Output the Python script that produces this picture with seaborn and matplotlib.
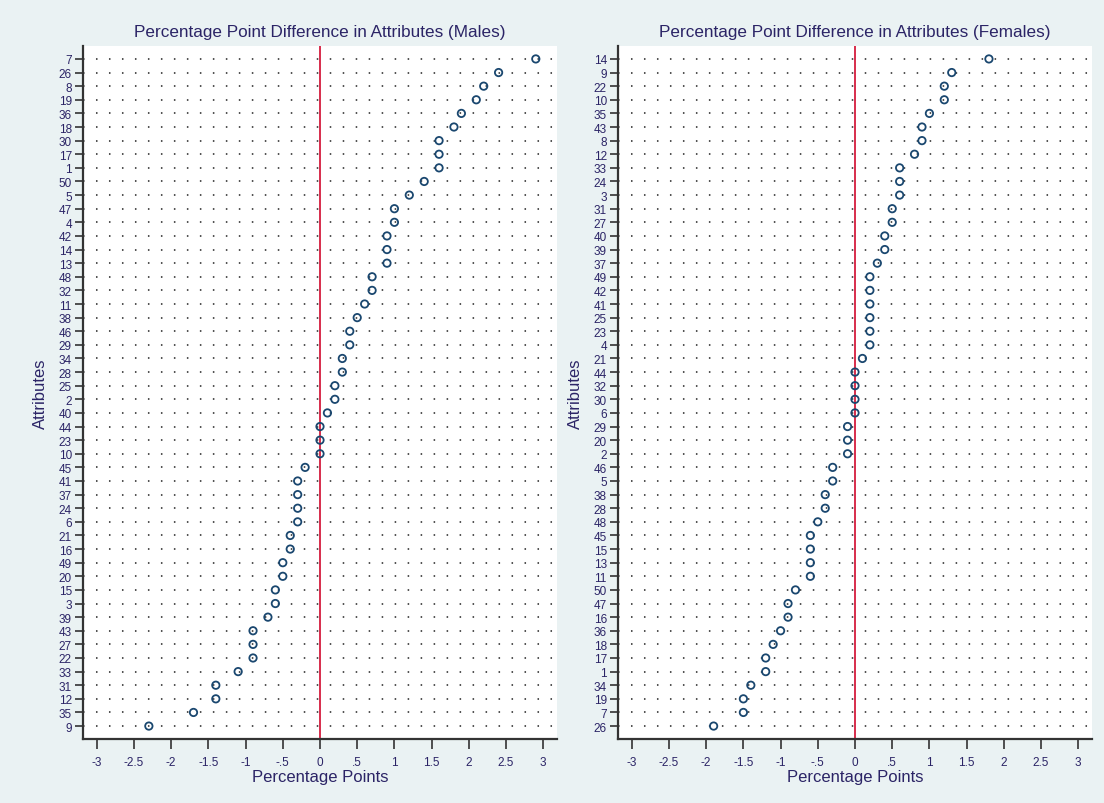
import numpy as np
import pandas as pd
import matplotlib
matplotlib.use("Agg")
import matplotlib.pyplot as plt
import seaborn as sns

# Attribute ids, sorted from largest to smallest difference
male_attrs = [7, 26, 8, 19, 36, 18, 30, 17, 1, 50, 5, 47, 4, 42, 14, 13, 48, 32, 11, 38,
              46, 29, 34, 28, 25, 2, 40, 44, 23, 10, 45, 41, 37, 24, 6, 21, 16, 49, 20, 15,
              3, 39, 43, 27, 22, 33, 31, 12, 35, 9]
male_diff = [2.9, 2.4, 2.2, 2.1, 1.9, 1.8, 1.6, 1.6, 1.6, 1.4, 1.2, 1.0, 1.0, 0.9, 0.9, 0.9,
             0.7, 0.7, 0.6, 0.5, 0.4, 0.4, 0.3, 0.3, 0.2, 0.2, 0.1, 0.0, 0.0, 0.0, -0.2,
             -0.3, -0.3, -0.3, -0.3, -0.4, -0.4, -0.5, -0.5, -0.6, -0.6, -0.7, -0.9, -0.9,
             -0.9, -1.1, -1.4, -1.4, -1.7, -2.3]

female_attrs = [14, 9, 22, 10, 35, 43, 8, 12, 33, 24, 3, 31, 27, 40, 39, 37, 49, 42, 41, 25,
                23, 4, 21, 44, 32, 30, 6, 29, 20, 2, 46, 5, 38, 28, 48, 45, 15, 13, 11, 50,
                47, 16, 36, 18, 17, 1, 34, 19, 7, 26]
female_diff = [1.8, 1.3, 1.2, 1.2, 1.0, 0.9, 0.9, 0.8, 0.6, 0.6, 0.6, 0.5, 0.5, 0.4, 0.4,
               0.3, 0.2, 0.2, 0.2, 0.2, 0.2, 0.2, 0.1, 0.0, 0.0, 0.0, 0.0, -0.1, -0.1, -0.1,
               -0.3, -0.3, -0.4, -0.4, -0.5, -0.6, -0.6, -0.6, -0.6, -0.8, -0.9, -0.9, -1.0,
               -1.1, -1.2, -1.2, -1.4, -1.5, -1.5, -1.9]

x_ticks = [-3, -2.5, -2, -1.5, -1, -0.5, 0, 0.5, 1, 1.5, 2, 2.5, 3]
x_tick_labels = ["-3", "-2.5", "-2", "-1.5", "-1", "-.5", "0", ".5", "1", "1.5", "2", "2.5", "3"]

titles = ["Percentage Point Difference in Attributes (Males)",
          "Percentage Point Difference in Attributes (Females)"]

BG = "#EAF2F3"
NAVY = "#1A476F"
TEXT = "#2B2466"
RED = "#D41C3E"
SPINE = "#333333"

sns.set_theme(style="white")
plt.rcParams["font.family"] = ["Liberation Sans", "DejaVu Sans"]

fig = plt.figure(figsize=(11.04, 8.04), dpi=100, facecolor=BG)
W, H = 1104, 804
boxes = [(83, 47, 557, 740), (618, 47, 1092, 740)]

panels = [(male_attrs, male_diff), (female_attrs, female_diff)]
for (attrs, diffs), (l, t, r, b), title in zip(panels, boxes, titles):
    ax = fig.add_axes([l / W, 1 - b / H, (r - l) / W, (b - t) / H])
    ax.set_facecolor("white")
    labels = [str(a) for a in attrs]
    df = pd.DataFrame({"attr": labels, "diff": diffs})

    n = len(labels)
    # dotted guide line for every attribute row
    for i in range(n):
        ax.axhline(i, color="#222222", lw=1.1, ls=(0, (1, 7.5)), zorder=0)
    ax.axvline(0, color=RED, lw=1.3, zorder=1)

    sns.stripplot(data=df, x="diff", y="attr", order=labels, orient="h", jitter=False,
                  marker="o", size=5.3, ax=ax, zorder=3)
    for coll in ax.collections:
        coll.set_facecolor("none")
        coll.set_edgecolor(NAVY)
        coll.set_linewidth(1.3)

    ax.set_xlim(-3.185, 3.185)
    ax.set_ylim(n - 1 + 0.95, -0.95)
    ax.set_xticks(x_ticks)
    ax.set_xticklabels(x_tick_labels)
    ax.set_yticks(range(n))
    ax.set_yticklabels(labels)

    ax.tick_params(axis="x", direction="out", length=7, width=1.2, color=SPINE,
                   labelsize=8.5, labelcolor=TEXT, pad=5, bottom=True)
    ax.tick_params(axis="y", direction="out", length=6, width=1.2, color=SPINE,
                   labelsize=8.5, labelcolor=TEXT, pad=2, left=True)

    for side in ["top", "right"]:
        ax.spines[side].set_visible(False)
    for side in ["left", "bottom"]:
        ax.spines[side].set_color(SPINE)
        ax.spines[side].set_linewidth(1.6)

    ax.set_title(title, fontsize=12.3, color=TEXT, pad=7)
    ax.set_xlabel("Percentage Points", fontsize=12, color=TEXT, labelpad=1)
    ax.set_ylabel("Attributes", fontsize=12, color=TEXT, labelpad=8)
    ax.grid(False)

fig.savefig("out.png", dpi=100, facecolor=BG)
